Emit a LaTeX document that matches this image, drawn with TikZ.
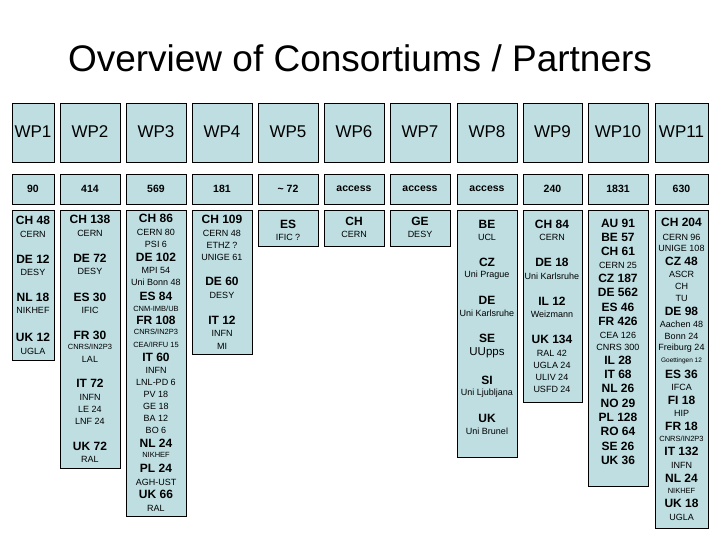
\documentclass[tikz,border=0pt]{standalone}
\usepackage{fontspec}
\setmainfont{Liberation Sans}
\definecolor{boxfill}{RGB}{190,222,225}
\tikzset{
 cell/.style={draw=black,line width=0.9pt,fill=boxfill},
 bl/.style={font=\bfseries\fontsize{12}{12}\selectfont,inner sep=0pt},
 sm/.style={font=\fontsize{9}{9}\selectfont,inner sep=0pt},
 tn/.style={font=\fontsize{7.5}{7.5}\selectfont,inner sep=0pt},
 hd/.style={font=\fontsize{17}{17}\selectfont,inner sep=0pt},
 nm/.style={font=\bfseries\fontsize{10.5}{10.5}\selectfont,inner sep=0pt},
}
\newcommand\Bl[3]{\node[bl] at (#1,-#2) {#3};}
\newcommand\Sm[3]{\node[sm] at (#1,-#2) {#3};}
\newcommand\Tn[3]{\node[tn] at (#1,-#2) {#3};}
\begin{document}
\begin{tikzpicture}[x=1pt,y=1pt]
\useasboundingbox (0,0) rectangle (720,-540);
\node[font=\fontsize{37}{37}\selectfont,inner sep=0pt] (title) at (360,-58) {Overview of Consortiums / Partners};
\foreach \a/\b/\yb/\t/\n [count=\i] in {12/54/360/WP1/90,60/120/468/WP2/414,126/186/516/WP3/569,192/252/354/WP4/181,258/318/246/WP5/\textasciitilde\ 72,324/384/246/WP6/access,390/450/246/WP7/access,457/517/457/WP8/access,523/582/402/WP9/240,588/648/486/WP10/1831,655/708/528/WP11/630}{
 \draw[cell] (\a,-103) rectangle (\b,-162);
 \node[hd] (h\i) at ({(\a+\b)/2},-132) {\t};
 \draw[cell] (\a,-174) rectangle (\b,-204);
 \node[nm] (n\i) at ({(\a+\b)/2},-189) {\n};
 \draw[cell] (\a,-210) rectangle (\b,-\yb);
}
% WP1
\Bl{33}{220}{CH 48}\Sm{33}{234}{CERN}\Bl{33}{259}{DE 12}\Sm{33}{272}{DESY}
\Bl{33}{297}{NL 18}\Sm{33}{310}{NIKHEF}\Bl{33}{337}{UK 12}\Sm{33}{351}{UGLA}
% WP2
\Bl{90}{219}{CH 138}\Sm{90}{233}{CERN}\Bl{90}{258}{DE 72}\Sm{90}{271}{DESY}
\Bl{90}{297}{ES 30}\Sm{90}{310}{IFIC}\Bl{90}{335}{FR 30}\Tn{90}{347}{CNRS/IN2P3}
\Sm{90}{359}{LAL}\Bl{90}{383}{IT 72}\Sm{90}{397}{INFN}\Sm{90}{409}{LE 24}
\Sm{90}{421}{LNF 24}\Bl{90}{446}{UK 72}\Sm{90}{459}{RAL}
% WP3
\Bl{156}{218}{CH 86}\Sm{156}{232}{CERN 80}\Sm{156}{244}{PSI 6}\Bl{156}{257}{DE 102}
\Sm{156}{270}{MPI 54}\Sm{156}{282}{Uni Bonn 48}\Bl{156}{296}{ES 84}\Tn{156}{309}{CNM-IMB/UB}
\Bl{156}{320}{FR 108}\Tn{156}{332}{CNRS/IN2P3}\Tn{156}{345}{CEA/IRFU 15}\Bl{156}{357}{IT 60}
\Sm{156}{370}{INFN}\Sm{156}{382}{LNL-PD 6}\Sm{156}{394}{PV 18}\Sm{156}{406}{GE 18}
\Sm{156}{418}{BA 12}\Sm{156}{430}{BO 6}\Bl{156}{443}{NL 24}\Tn{156}{455}{NIKHEF}
\Bl{156}{468}{PL 24}\Sm{156}{482}{AGH-UST}\Bl{156}{494}{UK 66}\Sm{156}{508}{RAL}
% WP4
\Bl{222}{219}{CH 109}\Sm{222}{233}{CERN 48}\Sm{222}{245}{ETHZ ?}\Sm{222}{257}{UNIGE 61}
\Bl{222}{281}{DE 60}\Sm{222}{295}{DESY}\Bl{222}{320}{IT 12}\Sm{222}{333}{INFN}\Sm{222}{346}{MI}
% WP5-7
\Bl{288}{224}{ES}\Sm{288}{237}{IFIC ?}
\Bl{354}{221}{CH}\Sm{354}{234}{CERN}
\Bl{420}{221}{GE}\Sm{420}{234}{DESY}
% WP8
\Bl{487}{224}{BE}\Sm{487}{237}{UCL}\Bl{487}{262}{CZ}\Sm{487}{275}{Uni Prague}
\Bl{487}{300}{DE}\Sm{487}{313}{Uni Karlsruhe}\Bl{487}{338}{SE}
\node[font=\fontsize{11.5}{11.5}\selectfont,inner sep=0pt] at (487,-353) {UUpps};
\Bl{487}{380}{SI}\Sm{487}{393}{Uni Ljubljana}\Bl{487}{418}{UK}\Sm{487}{431}{Uni Brunel}
% WP9
\Bl{552}{224}{CH 84}\Sm{552}{237}{CERN}\Bl{552}{262}{DE 18}\Sm{552}{276}{Uni Karlsruhe}
\Bl{552}{301}{IL 12}\Sm{552}{314}{Weizmann}\Bl{552}{339}{UK 134}\Sm{552}{353}{RAL 42}
\Sm{552}{365}{UGLA 24}\Sm{552}{377}{ULIV 24}\Sm{552}{389}{USFD 24}
% WP10
\Bl{618}{223}{AU 91}\Bl{618}{237}{BE 57}\Bl{618}{251}{CH 61}\Sm{618}{265}{CERN 25}
\Bl{618}{278}{CZ 187}\Bl{618}{292}{DE 562}\Bl{618}{307}{ES 46}\Bl{618}{321}{FR 426}
\Sm{618}{335}{CEA 126}\Sm{618}{347}{CNRS 300}\Bl{618}{360}{IL 28}\Bl{618}{374}{IT 68}
\Bl{618}{388}{NL 26}\Bl{618}{403}{NO 29}\Bl{618}{417}{PL 128}\Bl{618}{431}{RO 64}
\Bl{618}{446}{SE 26}\Bl{618}{460}{UK 36}
% WP11
\Bl{681.5}{222}{CH 204}\Sm{681.5}{237}{CERN 96}\Sm{681.5}{248}{UNIGE 108}\Bl{681.5}{261}{CZ 48}
\Sm{681.5}{274}{ASCR}\Sm{681.5}{286}{CH}\Sm{681.5}{298}{TU}\Bl{681.5}{311}{DE 98}
\Sm{681.5}{324}{Aachen 48}\Sm{681.5}{336}{Bonn 24}\Sm{681.5}{348}{Freiburg 24}
\node[font=\fontsize{6.5}{6.5}\selectfont,inner sep=0pt] at (681.5,-361) {Goettingen 12};
\Bl{681.5}{374}{ES 36}\Sm{681.5}{387}{IFCA}\Bl{681.5}{400}{FI 18}\Sm{681.5}{413}{HIP}
\Bl{681.5}{426}{FR 18}\Tn{681.5}{439}{CNRS/IN2P3}\Bl{681.5}{451}{IT 132}\Sm{681.5}{465}{INFN}
\Bl{681.5}{478}{NL 24}\Tn{681.5}{491}{NIKHEF}\Bl{681.5}{503}{UK 18}\Sm{681.5}{517}{UGLA}
\end{tikzpicture}
\end{document}
